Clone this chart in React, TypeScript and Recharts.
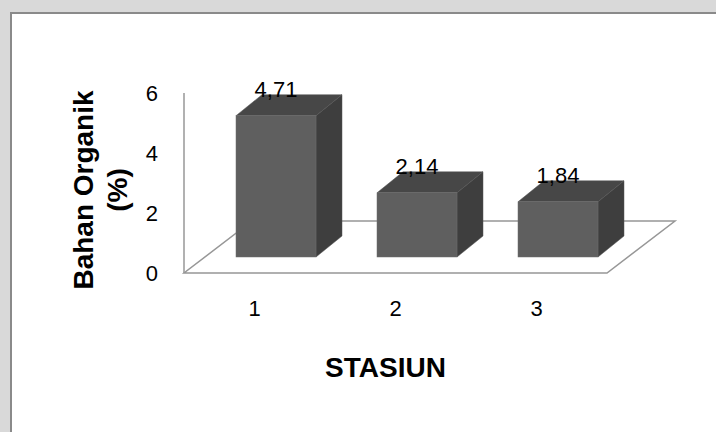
import { Bar, BarChart, LabelList, ReferenceArea, XAxis, YAxis } from 'recharts'

const stations = ['1', '2', '3']
const organicMatter = [4.71, 2.14, 1.84]
const yTicks = [0, 2, 4, 6]

const data = stations.map((s, i) => ({ name: s, value: organicMatter[i] }))

// 3d look: bars sit inside the floor, shifted back from the front edge
const FRONT_DX = 21
const FRONT_DY = -16
const DEPTH_DX = 26
const DEPTH_DY = -21
const FLOOR_DX = 68
const FLOOR_DY = -52

const FONT = '"Liberation Sans", Arial, sans-serif'
const LINE = '#979797'

const Box3D = (props: any) => {
  const { x, y, width, height } = props
  if (height == null || height <= 0) return null
  const fx = x + FRONT_DX
  const fy = y + FRONT_DY
  const fr = fx + width
  const fb = fy + height
  const top = `M${fx} ${fy} L${fx + DEPTH_DX} ${fy + DEPTH_DY} L${fr + DEPTH_DX} ${fy + DEPTH_DY} L${fr} ${fy} Z`
  const side = `M${fr} ${fy} L${fr + DEPTH_DX} ${fy + DEPTH_DY} L${fr + DEPTH_DX} ${fb + DEPTH_DY} L${fr} ${fb} Z`
  return (
    <g>
      <path d={top} fill="#474747" stroke="#555" strokeWidth={0.5} />
      <path d={side} fill="#3e3e3e" stroke="#555" strokeWidth={0.5} />
      <rect x={fx} y={fy} width={width} height={height} fill="#5f5f5f" stroke="#6e6e6e" strokeWidth={0.5} />
    </g>
  )
}

const Floor = (props: any) => {
  const { x, y, width, height } = props
  const b = y + height
  const r = x + width
  const d = `M${x} ${b} L${r} ${b} L${r + FLOOR_DX} ${b + FLOOR_DY} L${x + FLOOR_DX} ${b + FLOOR_DY} Z`
  return <path d={d} fill="#fff" stroke={LINE} strokeWidth={1.5} />
}

const valueLabel = (props: any) => {
  const { x, y, width, value } = props
  return (
    <text
      x={x + width / 2 + FRONT_DX}
      y={y - 43 + 8}
      textAnchor="middle"
      fontFamily={FONT}
      fontSize={22}
      fill="#000"
    >
      {Number(value).toFixed(2).replace('.', ',')}
    </text>
  )
}

const yTitle = (props: any) => {
  const vb = props.viewBox
  const cy = vb.y + vb.height / 2 + 7
  return (
    <g fontFamily={FONT} fontSize={28} fontWeight="bold" fill="#000" textAnchor="middle">
      <text x={93} y={cy} transform={`rotate(-90 93 ${cy})`}>Bahan Organik</text>
      <text x={127} y={cy} transform={`rotate(-90 127 ${cy})`}>(%)</text>
    </g>
  )
}

const xTitle = (props: any) => {
  const vb = props.viewBox
  return (
    <text
      x={vb.x + vb.width / 2 - 10}
      y={vb.y + 104}
      textAnchor="middle"
      fontFamily={FONT}
      fontSize={28}
      fontWeight="bold"
      fill="#000"
    >
      STASIUN
    </text>
  )
}

export default function App() {
  return (
    <div style={{ position: 'absolute', left: 0, top: 0, width: 716, height: 432, background: '#d9d9d9', overflow: 'hidden' }}>
      <div
        style={{
          position: 'absolute',
          left: 10,
          top: 12,
          width: 730,
          height: 440,
          background: '#fff',
          border: '2px solid #8a8a8a',
          boxSizing: 'border-box',
        }}
      />
      <div style={{ position: 'absolute', left: 0, top: 0 }}>
        <BarChart width={716} height={432} data={data} margin={{ top: 93, right: 109, bottom: 0, left: 0 }}>
          <ReferenceArea y1={0} y2={6} ifOverflow="visible" shape={<Floor />} />
          <XAxis
            dataKey="name"
            height={159}
            axisLine={false}
            tickLine={false}
            tickSize={0}
            tickMargin={27}
            tick={{ fontFamily: FONT, fontSize: 22, fill: '#000' }}
            label={{ content: xTitle }}
          />
          <YAxis
            width={184}
            domain={[0, 6]}
            ticks={yTicks}
            axisLine={{ stroke: LINE, strokeWidth: 1.5 }}
            tickLine={false}
            tickSize={0}
            tickMargin={26}
            tick={{ fontFamily: FONT, fontSize: 22, fill: '#000' }}
            label={{ content: yTitle }}
          />
          <Bar dataKey="value" barSize={80} shape={<Box3D />} isAnimationActive={false}>
            <LabelList dataKey="value" content={valueLabel} />
          </Bar>
        </BarChart>
      </div>
    </div>
  )
}
